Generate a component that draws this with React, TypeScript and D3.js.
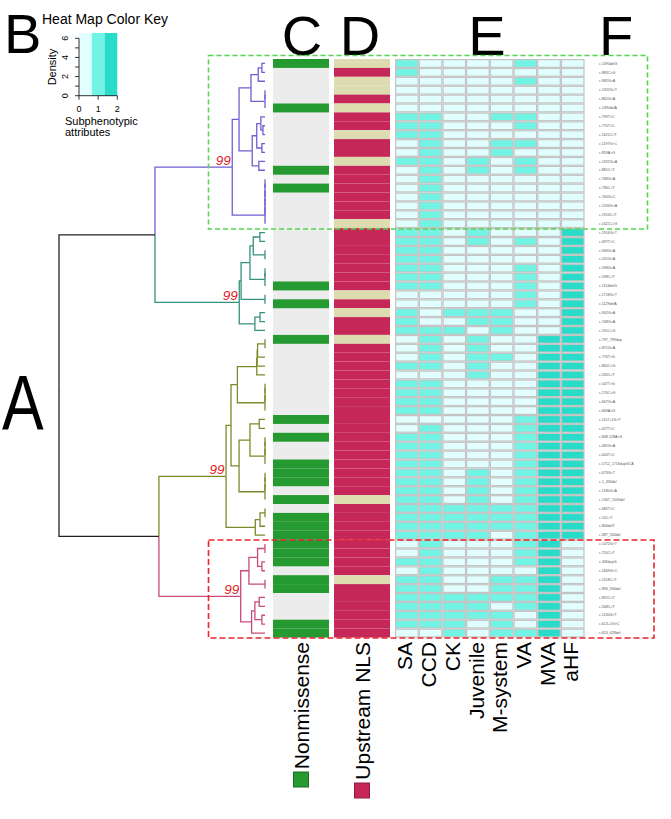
import React from "react";
import * as d3 from "d3";

type Node = number | [number, Node, Node];

const rowLabels = [
  "c.1490delG","c.883C>G","c.982G>A","c.1322G>T","c.862G>A","c.1390delA","c.799T>C","c.770T>C","c.1621C>T","c.1197G>C",
  "c.859A>G","c.1922G>A","c.881C>T","c.768G>A","c.736C>T","c.760G>C","c.1594G>A","c.1914C>T","c.1621C>G",
  "c.1916G>T","c.497T>C","c.949G>A","c.241G>A","c.598G>A","c.598C>T","c.1114delG","c.1718G>T","c.1129delA","c.902G>A",
  "c.748G>A","c.191C>G","c.797_799dup","c.871G>A","c.776T>G","c.865C>G","c.535C>T","c.547T>G","c.176C>G","c.667G>A",
  "c.669A>G","c.1157+1G>T","c.427T>C","c.848-128A>G","c.481G>A","c.644T>C","c.1712_1716dupGCA","c.673G>T","c.1_356del",
  "c.1180G>A","c.1367_1509del","c.685T>C","c.10C>T","c.806delT","c.387_556del",
  "c.1072G>T","c.750C>T","c.346dupG","c.1669G>C","c.1518C>T","c.896_906del","c.892C>T","c.568C>T","c.1130G>T","c.613+1G>C","c.624_628del",
];

const columns = ["SA", "CCD", "CK", "Juvenile", "M-system", "VA", "MVA", "aHF"];

const SA = [1,1,0,0,0,0,1,1,1,0,0,1,0,0,0,0,0,0,0, 1,1,1,1,1,1,1,0,0,1,1,1, 0,0,0,1,0,1,1,1,1,0,0,1,1,1,1,1,1,1,1,1,1,1,1, 0,0,1,0,1,1,1,1,1,1,0];
const CCD = [0,0,0,0,0,0,1,1,1,1,1,1,1,1,1,1,1,1,1, 1,1,1,1,1,1,1,0,0,0,0,1, 1,1,1,1,0,1,1,1,1,0,1,1,1,1,1,1,1,1,1,1,1,1,1, 1,1,1,1,1,1,1,1,1,1,0];
const CK = [0,0,0,0,0,0,0,0,0,0,0,0,0,0,0,0,0,0,0, 0,0,0,0,0,0,0,0,0,1,0,1, 0,0,0,0,0,0,0,0,0,0,0,0,0,0,0,0,0,0,0,1,1,1,1, 0,0,0,0,0,0,1,1,1,1,1];
const Juvenile = [0,0,0,0,0,0,0,0,0,0,0,1,1,0,0,0,0,0,0, 1,1,0,0,0,0,0,0,0,1,1,0, 1,1,1,1,1,0,0,0,0,0,0,0,0,0,0,1,1,1,1,1,1,1,1, 0,0,0,0,0,0,1,1,1,0,0];
const Msystem = [0,0,0,0,0,0,1,0,0,1,1,0,0,0,0,0,0,0,0, 0,0,0,0,0,0,0,0,0,1,1,1, 0,0,1,0,0,0,0,0,0,0,0,0,0,0,0,0,0,0,0,1,1,1,0, 0,0,0,0,1,1,1,0,1,1,1];
const VA = [1,0,1,0,0,0,1,1,0,1,0,1,1,0,0,0,0,0,0, 0,1,0,0,1,1,1,1,1,0,0,0, 0,0,0,0,0,0,0,0,0,1,1,1,1,1,1,1,1,1,1,1,1,1,1, 1,1,1,0,1,1,1,1,0,0,1];
const MVA = [0,0,0,0,0,0,0,0,0,0,0,0,0,0,0,0,0,0,0, 0,0,0,0,0,0,0,0,0,0,0,0, 2,2,2,2,2,2,2,2,2,2,2,2,2,2,2,2,2,2,2,2,2,2,2, 2,2,2,2,2,2,2,2,2,2,2];
const aHF = [0,0,0,0,0,0,0,0,0,0,0,0,0,0,0,0,0,0,0, 2,2,2,2,2,2,2,2,2,2,2,2, 2,2,2,2,2,2,2,2,2,2,2,2,2,2,2,2,2,2,2,2,2,2,2, 0,0,0,0,0,0,0,0,0,0,0];
const heatValues = [SA, CCD, CK, Juvenile, Msystem, VA, MVA, aHF];

const nonsense = [1,0,0,0,0,1,0,0,0,0,0,0,1,0,1,0,0,0,0, 0,0,0,0,0,0,1,0,1,0,0,0, 1,0,0,0,0,0,0,0,0,1,0,1,0,0,1,1,1,0,1,0,1,1,1, 1,1,1,0,1,1,0,0,0,1,1];
const upstreamNLS = [0,1,0,0,1,0,1,1,0,1,1,0,1,1,1,1,1,1,0, 1,1,1,1,1,1,1,0,1,0,1,1, 0,1,1,1,1,1,1,1,1,1,1,1,1,1,1,1,1,1,0,1,1,1,1, 1,1,1,1,0,1,1,1,1,1,1];

// cluster membership (first row of each cluster, 1-based)
const clusterStarts = [1, 20, 32, 55];
const clusterColors = ["#6e5fd2", "#36907f", "#7d8a2c", "#c94a7c"];

// dendrogram merges: [height, left, right], leaves = row numbers (1-based)
const purpleTree: Node = [1.59,
  [1.26,
    [0.68, [0.33, [0.15, 1, 2], 3], [0, [0, 4, 5], 6]],
    [0.62, [0.4, [0.2, 7, [0.1, 8, 9]], [0.15, 10, 11]], [0.3, 12, 13]]],
  [0, [0, [0, [0, [0, 14, 15], 16], 17], 18], 19]];
const tealTree: Node = [1.25,
  [1.16, [0.73, [0.57, [0.25, 20, 21], [0, 22, 23]], [0, [0, 24, 25], 26]], [0, 27, 28]],
  [0.49, [0.24, 29, 30], 31]];
const oliveTree: Node = [1.89,
  [1.65,
    [1.34, [0.4, [0.38, [0.36, [0, 32, 33], 34], 35], 36], [0, [0, [0, 37, 38], 39], 40]],
    [1.26, [0.73, [0.28, 41, 42], [0, [0, [0, 43, 44], 45], 46]], [0, [0, [0, 47, 48], 49], 50]]],
  [0.47, [0.24, [0, 51, 52], 53], 54]];
const pinkTree: Node = [1.18,
  [0.78, [0.36, [0, 55, 56], [0.15, 57, 58]], [0, 59, 60]],
  [0.65, [0.49, [0.28, 61, 62], [0.15, 63, 64]], 65]];
const rootTree: Node = [10, [5.34, purpleTree, tealTree], [5.15, oliveTree, pinkTree]];
const bootstrapNodes = [purpleTree, tealTree, oliveTree, pinkTree];
const bootstrapLabel = "99";

const keyColors = ["#e0fffe", "#72f4e5", "#29dcc9"];
const FONT = "'Liberation Sans', Arial, Helvetica, sans-serif";

export default function App() {
  const W = 671, H = 819;
  const nRows = rowLabels.length;
  const y = d3.scaleBand<number>().domain(d3.range(nRows)).range([59, 637.5]);
  const x = d3.scaleBand<string>().domain(columns).range([395, 584.6]);
  const hx = d3.scaleLinear().domain([0, 10]).range([265, 59]);
  const color = d3.scaleOrdinal<number, string>().domain([0, 1, 2]).range(keyColors);
  const bw = y.bandwidth();
  const rowC = (r: number) => (y(r - 1) as number) + bw / 2;
  const clusterOf = (r: number) => d3.bisectRight(clusterStarts, r) - 1;

  const edges: { d: string; c: string }[] = [];
  const pos = new Map<Node, { x: number; y: number }>();
  function layout(n: Node): { x: number; y: number; cl: number } {
    if (typeof n === "number") {
      const p = { x: hx(0), y: rowC(n), cl: clusterOf(n) };
      return p;
    }
    const [h, l, r] = n;
    const a = layout(l), b = layout(r);
    const px = hx(h), py = (a.y + b.y) / 2;
    for (const c of [a, b]) {
      edges.push({ d: `M${px},${py}V${c.y}H${c.x}`, c: c.cl >= 0 ? clusterColors[c.cl] : "#222" });
    }
    const p = { x: px, y: py, cl: a.cl === b.cl ? a.cl : -1 };
    pos.set(n, p);
    return p;
  }
  layout(rootTree);

  // colour key scales
  const kx = d3.scaleLinear().domain([0, 2]).range([79, 117.3]);
  const ky = d3.scaleLinear().domain([0, 6]).range([95.7, 38.3]);

  const bottomLabels = columns.map((c) => ({ t: c, cx: (x(c) as number) + x.bandwidth() / 2 - 2 }));

  return (
    <svg width={W} height={H} style={{ position: "absolute", left: 0, top: 0, background: "#fff" }} fontFamily={FONT}>
      {/* Big panel letters */}
      <text transform="translate(2,430) scale(0.8,1)" fontSize={78}>A</text>
      <text x={4} y={53} fontSize={56}>B</text>
      <text x={302} y={55} fontSize={56} textAnchor="middle">C</text>
      <text x={360} y={55} fontSize={56} textAnchor="middle">D</text>
      <text x={487} y={55} fontSize={56} textAnchor="middle">E</text>
      <text x={616} y={55} fontSize={56} textAnchor="middle">F</text>

      {/* Colour key */}
      <text x={42} y={24} fontSize={14}>Heat Map Color Key</text>
      {keyColors.map((c, i) => (
        <rect key={i} x={kx((i * 2) / 3)} y={33} width={kx(((i + 1) * 2) / 3) - kx((i * 2) / 3)} height={ky(0) - 33} fill={c} />
      ))}
      <line x1={kx(0)} x2={kx(0)} y1={ky(0)} y2={ky(6)} stroke="#000" strokeWidth={0.8} />
      {d3.range(0, 7).map((t) => (
        <line key={t} x1={kx(0) - 4} x2={kx(0)} y1={ky(t)} y2={ky(t)} stroke="#000" strokeWidth={0.8} />
      ))}
      {[0, 2, 4, 6].map((t) => (
        <text key={t} transform={`translate(${kx(0) - 11},${ky(t)}) rotate(-90)`} fontSize={9} textAnchor="middle">{t}</text>
      ))}
      <text transform={`translate(56,${ky(3)}) rotate(-90)`} fontSize={11} textAnchor="middle">Density</text>
      <line x1={kx(0)} x2={kx(2)} y1={ky(0)} y2={ky(0)} stroke="#000" strokeWidth={0.8} />
      {[0, 1, 2].map((t) => (
        <g key={t}>
          <line x1={kx(t)} x2={kx(t)} y1={ky(0)} y2={ky(0) + 4} stroke="#000" strokeWidth={0.8} />
          <text x={kx(t)} y={112} fontSize={9} textAnchor="middle">{t}</text>
        </g>
      ))}
      <text x={65} y={125} fontSize={11}>Subphenotypic</text>
      <text x={65} y={136} fontSize={11}>attributes</text>

      {/* Dendrogram */}
      {edges.map((e, i) => (
        <path key={i} d={e.d} fill="none" stroke={e.c} strokeWidth={1.3} />
      ))}
      {bootstrapNodes.map((n, i) => {
        const p = pos.get(n)!;
        return (
          <text key={i} x={p.x - 1.5} y={p.y - 2} fontSize={13.5} fontStyle="italic" fill="#e31a1c" textAnchor="end">{bootstrapLabel}</text>
        );
      })}

      {/* Column C: nonsense */}
      <rect x={273} y={y(0)} width={56} height={bw * nRows} fill="#ececec" />
      {nonsense.map((v, i) => v ? <rect key={i} x={273} y={y(i)} width={56} height={bw} fill="#259a30" /> : null)}
      {/* Column D: upstream NLS */}
      {upstreamNLS.map((v, i) => (
        <rect key={i} x={334} y={y(i)} width={56} height={bw} fill={v ? "#c52858" : "#dcdcb0"} />
      ))}

      {/* Heatmap */}
      {heatValues.map((vals, ci) => vals.map((v, ri) => (
        <rect key={`${ci}-${ri}`} x={(x(columns[ci]) as number) + 0.6} y={(y(ri) as number) + 0.6}
          width={x.bandwidth() - 1.2} height={bw - 1.2} fill={color(v)} stroke="#c4c4c4" strokeWidth={1.2} />
      )))}

      {/* Row labels */}
      {rowLabels.map((t, i) => (
        <text key={i} x={599} y={rowC(i + 1) + 1.2} fontSize={3.6} fill="#555">{t}</text>
      ))}

      {/* Highlight boxes */}
      <rect x={208.5} y={55.5} width={439} height={173.5} fill="none" stroke="#55d64f" strokeWidth={1.6} strokeDasharray="5,3" />
      <rect x={208.5} y={540} width={445.5} height={98} fill="none" stroke="#e8252b" strokeWidth={1.6} strokeDasharray="6,3" />

      {/* Bottom labels */}
      {bottomLabels.map((b) => (
        <text key={b.t} transform={`translate(${b.cx},642) rotate(-90)`} fontSize={21} textAnchor="end" dy="0.36em">{b.t}</text>
      ))}
      <g transform="translate(301,642) rotate(-90)">
        <text fontSize={21} textAnchor="end" dy="0.36em">Nonmissense</text>
        <rect x={-145} y={-7.5} width={15} height={15} fill="#259a30" stroke="#1b6e22" strokeWidth={1} />
      </g>
      <g transform="translate(362,642) rotate(-90)">
        <text fontSize={21} textAnchor="end" dy="0.36em">Upstream NLS</text>
        <rect x={-156} y={-7.5} width={15} height={15} fill="#c52858" stroke="#8e1c40" strokeWidth={1} />
      </g>
    </svg>
  );
}
